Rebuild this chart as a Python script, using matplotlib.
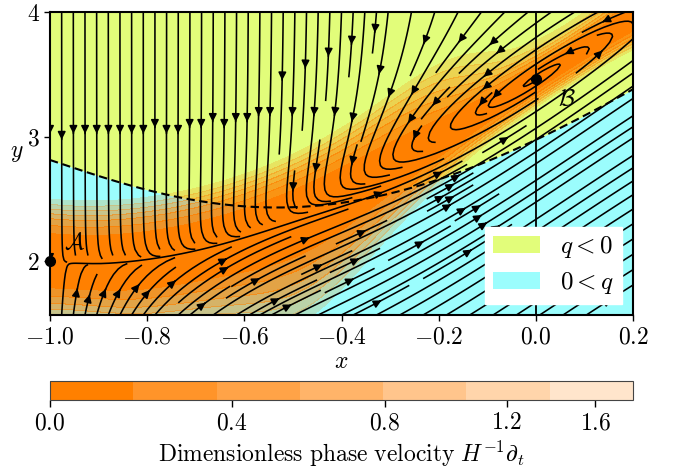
import numpy as np
import matplotlib
matplotlib.use("Agg")
import matplotlib.pyplot as plt
from matplotlib.patches import Patch

plt.rcParams['mathtext.fontset'] = 'cm'
plt.rcParams['font.family'] = ['DejaVu Serif']

# ---------------- data ----------------
x_lim = [-1.0, 0.2]
y_lim = [1.57, 4.0]
x_ticks = [-1.0, -0.8, -0.6, -0.4, -0.2, 0.0, 0.2]
y_ticks = [2, 3, 4]
point_names = ["A", "B"]
point_x = [-1.0, 0.0]
point_y = [2.0, 3.464]
# q = 0 boundary (dashed curve)
q0_x = [-1.0, -0.931, -0.863, -0.794, -0.691, -0.6, -0.485, -0.403, -0.3, -0.2, -0.099, 0.0, 0.1, 0.2]
q0_y = [2.823, 2.708, 2.641, 2.561, 2.494, 2.462, 2.436, 2.435, 2.534, 2.681, 2.815, 2.975, 3.149, 3.389]
# centre line of the slow (orange) valley joining A and B
band_x = [-1.0, -0.8, -0.6, -0.5, -0.4, -0.3, -0.2, -0.1, 0.0, 0.1, 0.2]
band_y = [2.0, 2.07, 2.17, 2.3, 2.5, 2.78, 3.03, 3.25, 3.464, 3.72, 3.98]
# colour levels of the phase velocity
levels = [0.0, 0.18, 0.36, 0.58, 0.795, 1.05, 1.36, 1.80]
level_alpha = [1.0, 0.84, 0.72, 0.59, 0.45, 0.33, 0.20]
cbar_ticks = [0.0, 0.4, 0.8, 1.2, 1.6]
yellow = '#e2fd7a'
cyan = '#9bfdfd'
orange = (1.0, 0.5, 0.0)

# ---------------- model vector field ----------------
wts = np.ones(len(band_x)); wts[0] = 20; wts[8] = 20
P = np.polyfit(band_x, band_y, 4, w=wts)
dP = np.polyder(P)


def field(X, Y):
    yb = np.polyval(P, X)
    dyb = np.polyval(dP, X)
    n = Y - yb
    up = 0.5 * (1 + np.tanh(n / 0.06))
    gB = np.exp(-(X / 0.3) ** 2)
    gL = np.exp(-((X + 0.75) / 0.2) ** 2)
    edgeA = np.exp(-((X + 1) / 0.2) ** 2)
    mu = 0.25 + 0.75 * gB
    beta_up = 0.8 + 2.2 * gB
    beta_dn = 1.35 + 1.2 * gL + 1.5 * gB
    s0 = 0.25
    xd = (1 + X) * (-mu * X) - (1 + X) * (up * beta_up * s0 * np.tanh(n / s0)
                                          + (1 - up) * beta_dn * n)
    k_up = 3.0 * (1 - gB) ** 2 + 0.1 + 2.0 * n ** 2
    k_dn = 0.05 + 3.0 * edgeA + 1.6 * gL
    K = up * k_up + (1 - up) * k_dn
    gam = 2.2 * np.exp(-(X / 0.35) ** 2)
    nd = -K * n + gam * X * (1 + X)
    yd = nd + dyb * xd
    return xd, yd


gx = np.linspace(x_lim[0], x_lim[1], 260)
gy = np.linspace(y_lim[0], y_lim[1], 260)
GX, GY = np.meshgrid(gx, gy)
U, V = field(GX, GY)
speed = np.hypot(U, V)
phase_vel = 1.8 * (speed / 1.8) ** 2.5

# ---------------- figure ----------------
fig = plt.figure(figsize=(6.78, 4.68), dpi=100)
ax = fig.add_axes([50 / 678, 1 - 315 / 468, 583 / 678, 303 / 468])
cax = fig.add_axes([50 / 678, 1 - 399.5 / 468, 583 / 678, 18.5 / 468])

# q regions
qx = np.linspace(x_lim[0], x_lim[1], 400)
qc = np.polyfit(q0_x, q0_y, 5)
qy = np.polyval(qc, qx)
ax.fill_between(qx, qy, y_lim[1], color=yellow, lw=0, zorder=0)
ax.fill_between(qx, y_lim[0], qy, color=cyan, lw=0, zorder=0)

cols = [(*orange, a) for a in level_alpha]
cf = ax.contourf(GX, GY, phase_vel, levels=levels, colors=cols, zorder=1)

ax.streamplot(GX, GY, U, V, density=1.7, color='k', linewidth=1.15,
              arrowsize=1.15, zorder=3)

ax.plot(qx, qy, ls=(0, (4, 2.2)), color='k', lw=1.5, zorder=4)
ax.axvline(0.0, color='k', lw=1.3, zorder=4)

ax.plot(point_x, point_y, 'o', color='k', ms=7, zorder=6, clip_on=False)
ax.text(-0.95, 2.15, r'$\mathcal{A}$', fontsize=17, ha='center', va='center', zorder=6)
ax.text(0.063, 3.31, r'$\mathcal{B}$', fontsize=17, ha='center', va='center', zorder=6)

ax.set_xlim(x_lim)
ax.set_ylim(y_lim)
ax.set_xticks(x_ticks)
ax.set_xticklabels([r'$%.1f$' % v for v in x_ticks])
ax.set_yticks(y_ticks)
ax.set_yticklabels([r'$%d$' % v for v in y_ticks])
ax.tick_params(labelsize=17, width=1.0, length=4)
for s in ax.spines.values():
    s.set_linewidth(1.5)
ax.set_xlabel(r'$x$', fontsize=17, labelpad=1)
ax.set_ylabel(r'$y$', fontsize=17, rotation=0, labelpad=7)

leg = ax.legend(handles=[Patch(facecolor=yellow, edgecolor='none'),
                         Patch(facecolor=cyan, edgecolor='none')],
                labels=[r'$q<0$', r'$0<q$'], loc='lower right', fontsize=18,
                frameon=True, fancybox=False, framealpha=1, edgecolor='white',
                handlelength=1.9, handleheight=0.7, borderaxespad=0.45,
                borderpad=0.3, labelspacing=0.4, handletextpad=0.8)
leg.set_zorder(10)

cb = fig.colorbar(cf, cax=cax, orientation='horizontal', ticks=cbar_ticks)
cb.ax.set_xticklabels([r'$%.1f$' % v for v in cbar_ticks])
cb.ax.tick_params(labelsize=17, length=5, width=1.0)
cb.set_label(r'$\mathrm{Dimensionless\ phase\ velocity}\ H^{-1}\partial_t$', fontsize=17, labelpad=3)
cb.outline.set_edgecolor('#444444')

fig.savefig('out.png', dpi=100)
